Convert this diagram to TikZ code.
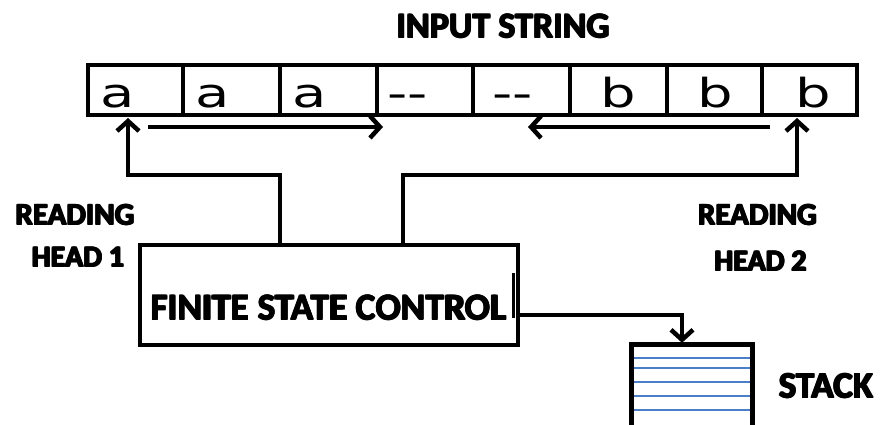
\documentclass[tikz,border=0pt]{standalone}
\usepackage{fontspec}
\usetikzlibrary{arrows.meta}
\newfontfamily\lblfont{Carlito}
\newfontfamily\cellfont{DejaVu Sans}
\definecolor{stackblue}{RGB}{74,126,198}
\newcommand{\heavytext}[1]{%
  \rlap{#1}\rlap{\hspace{1.4pt}#1}\rlap{\raisebox{1.2pt}{#1}}%
  \rlap{\hspace{0.7pt}\raisebox{0.6pt}{#1}}\hspace{1.4pt}\raisebox{1.2pt}{#1}}
\begin{document}
\begin{tikzpicture}[x=1pt,y=-1pt,
  cellbox/.style={draw, line width=4pt, inner sep=0pt, minimum height=50pt},
  sym/.style={anchor=base west, inner sep=0pt, font=\cellfont\fontsize{40}{40}\selectfont},
  lbl/.style={inner sep=0pt, font=\lblfont\bfseries\fontsize{#1}{#1}\selectfont},
  lbl/.default=30,
  conn/.style={line width=4.5pt},
  arr/.style={conn, -{Straight Barb[length=10pt,width=22pt]}},
  stackline/.style={stackblue, line width=1.4pt}]
\useasboundingbox (0,0) rectangle (882,424);
% tape cells
\node[cellbox, minimum width=95pt] (c1) at (135.5,90) {};
\node[cellbox, minimum width=97pt] (c2) at (231.5,90) {};
\node[cellbox, minimum width=97pt] (c3) at (328.5,90) {};
\node[cellbox, minimum width=96pt] (c4) at (425,90) {};
\node[cellbox, minimum width=97pt] (c5) at (521.5,90) {};
\node[cellbox, minimum width=97pt] (c6) at (618.5,90) {};
\node[cellbox, minimum width=95pt] (c7) at (714.5,90) {};
\node[cellbox, minimum width=95pt] (c8) at (809.5,90) {};
% tape symbols
\node[sym] (s1) at (100,107) {\scalebox{1.4}[1]{a}};
\node[sym] (s2) at (195,107) {\scalebox{1.4}[1]{a}};
\node[sym] (s3) at (292,107) {\scalebox{1.4}[1]{a}};
\node[sym] (s4) at (387,107) {\scalebox{1.4}[1]{-{}-}};
\node[sym] (s5) at (492,107) {\scalebox{1.4}[1]{-{}-}};
\node[sym] (s6) at (600,107) {\scalebox{1.4}[1]{b}};
\node[sym] (s7) at (697,107) {\scalebox{1.4}[1]{b}};
\node[sym] (s8) at (795,107) {\scalebox{1.4}[1]{b}};
% direction arrows
\coordinate (r1s) at (148,127);
\coordinate (r1e) at (383,127);
\coordinate (r2s) at (770,127);
\coordinate (r2e) at (528,127);
\draw[arr] (r1s) -- (r1e);
\draw[arr] (r2s) -- (r2e);
% finite state control
\node[draw, line width=4pt, minimum width=378pt, minimum height=100pt, inner sep=0pt] (fsc) at (329,295) {};
\node[lbl=37.5] (fsclabel) at (328.5,307.5) {\heavytext{FINITE STATE CONTROL}};
\draw[line width=3pt] (513.5,273) -- (513.5,318);
% reading heads
\coordinate (j1) at (280,175);
\coordinate (j2) at (128,175);
\coordinate (j3) at (403,175);
\coordinate (j4) at (797,175);
\draw[arr, shorten >=1pt] (j1 |- fsc.north) -- (j1) -- (j2) -- (j2 |- c1.south);
\draw[arr, shorten >=1pt] (j3 |- fsc.north) -- (j3) -- (j4) -- (j4 |- c8.south);
% stack
\node[minimum width=120pt, minimum height=82pt, inner sep=0pt] (stack) at (692,386) {};
\foreach \yy in {358,368,382,396,410}
  \draw[stackline] (stack.west |- 0,\yy) -- (stack.east |- 0,\yy);
\draw[line width=5pt] (stack.south west) -- (stack.north west) -- (stack.north east) -- (stack.south east);
\coordinate (j5) at (682,315);
\draw[arr, shorten >=2pt] (fsc.east |- j5) -- (j5) -- (j5 |- stack.north);
% labels
\node[lbl=36] (title) at (503,26) {\heavytext{INPUT STRING}};
\node[lbl=31] (rh1a) at (75,215) {\heavytext{READING}};
\node[lbl=30] (rh1b) at (78,257) {\heavytext{HEAD 1}};
\node[lbl=31] (rh2a) at (757.5,215) {\heavytext{READING}};
\node[lbl=30] (rh2b) at (760.5,261) {\heavytext{HEAD 2}};
\node[lbl=37] (stacklbl) at (826,386) {\heavytext{STACK}};
\end{tikzpicture}
\end{document}
